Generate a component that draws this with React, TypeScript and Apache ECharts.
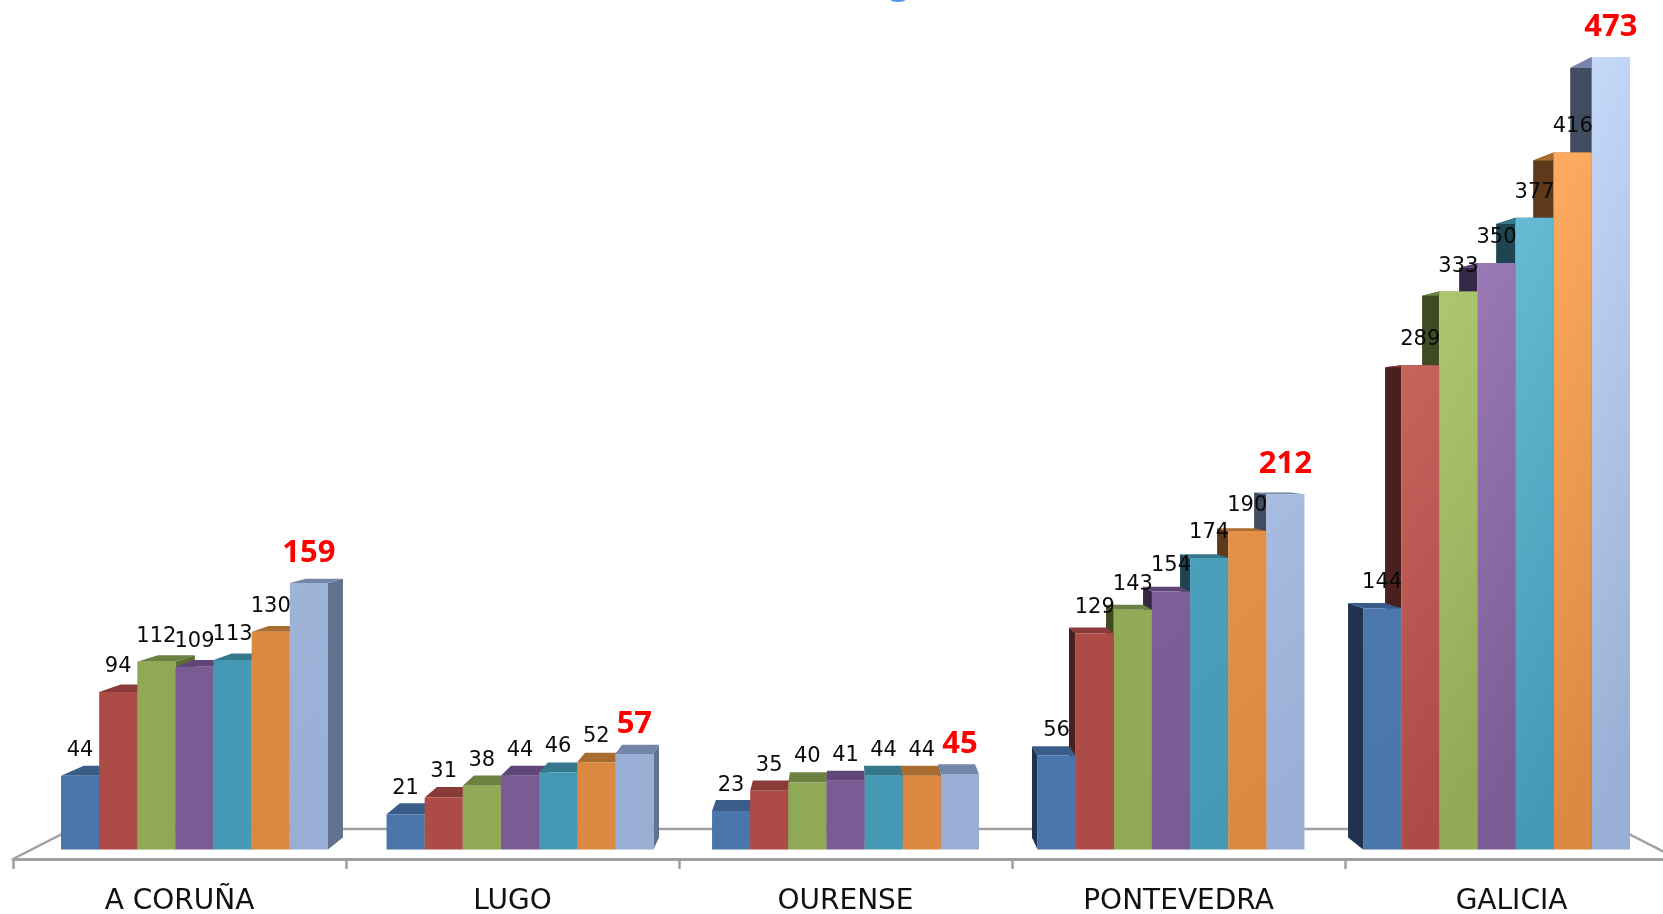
import React, { useEffect, useRef } from "react";
import * as echarts from "echarts";

const categories = ["A CORUÑA", "LUGO", "OURENSE", "PONTEVEDRA", "GALICIA"];
const serie1 = [44, 21, 23, 56, 144];
const serie2 = [94, 31, 35, 129, 289];
const serie3 = [112, 38, 40, 143, 333];
const serie4 = [109, 44, 41, 154, 350];
const serie5 = [113, 46, 44, 174, 377];
const serie6 = [130, 52, 44, 190, 416];
const serie7 = [159, 57, 45, 212, 473];
const allSeries = [serie1, serie2, serie3, serie4, serie5, serie6, serie7];

const baseColors = ["#4A76AB", "#AD4B46", "#8FA955", "#7A5C94", "#4699B4", "#DB8841", "#98AED4"];
const brightColors = ["#6C9CD8", "#D4706A", "#B4CE78", "#9E7DBA", "#66BBD5", "#FFAC62", "#C6D9F9"];
const topColors = ["#3A5C88", "#8A3A38", "#6C8040", "#5F4578", "#35788C", "#A86B30", "#7485AA"];
const leftSideColors = ["#1F3350", "#4A201E", "#3F4B22", "#352846", "#1D4450", "#5E3A1A", "#424C60"];
const rightSideColors = ["#324D70", "#703230", "#5C6E38", "#4E3A62", "#2B6578", "#93602F", "#62728E"];

const VX = 845.5;
const VY = 434;
const FRONT_K = 0.0225;
const DEPTH_K = 0.029;
const FILL = 0.82;

const toward = (p: number[], k: number) => [p[0] + (VX - p[0]) * k, p[1] + (VY - p[1]) * k];

const mix = (a: string, b: string, t: number) => {
  const pa = [1, 3, 5].map((i) => parseInt(a.slice(i, i + 2), 16));
  const pb = [1, 3, 5].map((i) => parseInt(b.slice(i, i + 2), 16));
  return `rgb(${pa.map((c, i) => Math.round(c + (pb[i] - c) * t)).join(",")})`;
};

function frontFace(api: any, s: number) {
  const cat = api.value(0);
  const v = api.value(1);
  const bottom = api.coord([cat, 0]);
  const top = api.coord([cat, v]);
  const band = api.size([1, 0])[0];
  const w = (band * FILL) / 7;
  const left = bottom[0] - (band * FILL) / 2 + s * w;
  return {
    v,
    bl: toward([left, bottom[1]], FRONT_K),
    br: toward([left + w, bottom[1]], FRONT_K),
    tl: toward([left, top[1]], FRONT_K),
    tr: toward([left + w, top[1]], FRONT_K),
  };
}

function makeBarRenderer(s: number) {
  return (_params: any, api: any) => {
    const { v, bl, br, tl, tr } = frontFace(api, s);
    const bBl = toward(bl, DEPTH_K);
    const bBr = toward(br, DEPTH_K);
    const bTl = toward(tl, DEPTH_K);
    const bTr = toward(tr, DEPTH_K);
    const dist = Math.abs((bl[0] + br[0]) / 2 - VX);
    const z = 1000 - dist;
    const children: any[] = [];
    if (br[0] < VX) {
      children.push({
        type: "polygon",
        z2: z,
        shape: { points: [br, tr, bTr, bBr] },
        style: { fill: rightSideColors[s] },
      });
    } else if (bl[0] > VX) {
      children.push({
        type: "polygon",
        z2: z,
        shape: { points: [bl, tl, bTl, bBl] },
        style: { fill: leftSideColors[s] },
      });
    }
    children.push({
      type: "polygon",
      z2: z + 0.1,
      shape: { points: [tl, tr, bTr, bTl] },
      style: { fill: topColors[s] },
    });
    const t = Math.min(1, Math.max(0, (v - 130) / 250));
    children.push({
      type: "polygon",
      z2: z + 0.2,
      shape: { points: [tl, tr, br, bl] },
      style: {
        fill: new echarts.graphic.LinearGradient(0, 0, 0.12, 1, [
          { offset: 0, color: mix(baseColors[s], brightColors[s], t) },
          { offset: 1, color: baseColors[s] },
        ]),
      },
    });
    return { type: "group", children };
  };
}

function makeLabelRenderer(s: number) {
  return (_params: any, api: any) => {
    const { v, tl, tr } = frontFace(api, s);
    const isTotal = s === 6;
    return {
      type: "text",
      style: {
        x: (tl[0] + tr[0]) / 2,
        y: tl[1] - (isTotal ? 33 : 27),
        text: String(v),
        align: "center",
        verticalAlign: "middle",
        fill: isTotal ? "#FF0000" : "#0A0A0A",
        font: isTotal ? 'bold 31px "Noto Sans"' : '21px "DejaVu Sans"',
      },
    };
  };
}

function renderFloor(_params: any, api: any) {
  const band = api.size([1, 0])[0];
  const a = api.coord([0, 0]);
  const b = api.coord([categories.length - 1, 0]);
  const fl = [a[0] - band / 2, a[1]];
  const fr = [b[0] + band / 2, b[1]];
  const backK = 0.0708;
  return {
    type: "polyline",
    shape: { points: [fl, toward(fl, backK), toward(fr, backK), fr] },
    style: { stroke: "#A0A0A0", lineWidth: 2.5, fill: "none" },
  };
}

export default function App() {
  const ref = useRef<HTMLDivElement>(null);
  useEffect(() => {
    document.body.style.margin = "0";
    document.body.style.overflow = "hidden";
    const chart = echarts.init(ref.current!, null, { renderer: "svg" });
    chart.setOption({
      animation: false,
      backgroundColor: "#FFFFFF",
      grid: { left: 13, top: 2, width: 1665, height: 857, containLabel: false, outerBoundsMode: "none" },
      xAxis: {
        type: "category",
        data: categories,
        axisLine: { show: true, lineStyle: { color: "#A0A0A0", width: 3 } },
        axisTick: { show: true, length: 10, lineStyle: { color: "#A0A0A0", width: 2.5 } },
        axisLabel: {
          margin: 28,
          fontSize: 28,
          lineHeight: 24,
          color: "#111111",
          fontFamily: "DejaVu Sans",
          interval: 0,
          hideOverlap: false,
        },
      },
      yAxis: { type: "value", min: 0, max: 500, show: false },
      graphic: [
        {
          type: "ellipse",
          shape: { cx: 898, cy: -1, rx: 8, ry: 3 },
          style: { fill: "#4F93E6" },
        },
      ],
      series: [
        {
          type: "custom",
          name: "Suelo",
          z: 1,
          renderItem: renderFloor,
          data: [[0, 0]],
          silent: true,
        },
        ...allSeries.map((values, s) => ({
          type: "custom",
          name: `Serie ${s + 1}`,
          z: 2,
          renderItem: makeBarRenderer(s),
          encode: { x: 0, y: 1 },
          data: values.map((v, i) => [i, v]),
        })),
        ...allSeries.map((values, s) => ({
          type: "custom",
          name: `Etiquetas ${s + 1}`,
          z: 10,
          silent: true,
          renderItem: makeLabelRenderer(s),
          encode: { x: 0, y: 1 },
          data: values.map((v, i) => [i, v]),
        })),
      ],
    });
    return () => chart.dispose();
  }, []);
  return (
    <div
      ref={ref}
      style={{ position: "fixed", left: 0, top: 0, width: 1663, height: 914, filter: "blur(0.6px)" }}
    />
  );
}
